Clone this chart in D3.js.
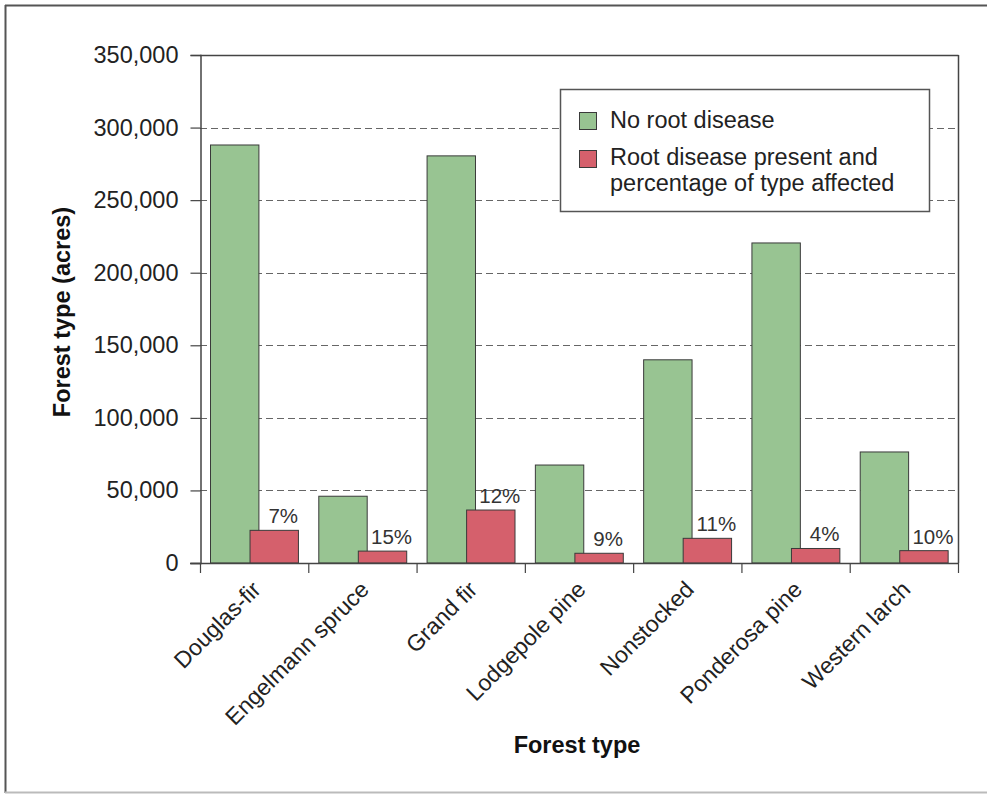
<!DOCTYPE html>
<html>
<head>
<meta charset="utf-8">
<script src="https://cdn.jsdelivr.net/npm/d3@7"></script>
<style>
  html, body { margin: 0; padding: 0; background: #fff; }
  svg { display: block; font-family: "Liberation Sans", Arial, sans-serif; }
</style>
</head>
<body>
<svg id="chart" width="987" height="794"></svg>
<script>
const categories = ["Douglas-fir", "Engelmann spruce", "Grand fir", "Lodgepole pine", "Nonstocked", "Ponderosa pine", "Western larch"];
const noRootDisease = [288000, 46000, 280500, 67500, 140000, 220500, 76500];
const rootDisease = [22500, 8200, 36500, 6700, 17000, 10000, 8500];
const pctAffected = ["7%", "15%", "12%", "9%", "11%", "4%", "10%"];
const yTicks = [0, 50000, 100000, 150000, 200000, 250000, 300000, 350000];
const seriesNames = ["No root disease", "Root disease present and|percentage of type affected"];

const svg = d3.select("#chart");
const W = 987, H = 794;
const plot = { left: 200, right: 958, top: 55, bottom: 563 };
const green = "#98c492", red = "#d5606c", stroke = "#3a3a3a";

// outer frame
svg.append("line").attr("x1", 5).attr("x2", W).attr("y1", 5.5).attr("y2", 5.5).attr("stroke", "#555").attr("stroke-width", 2);
svg.append("line").attr("x1", 5.5).attr("x2", 5.5).attr("y1", 5).attr("y2", 793).attr("stroke", "#555").attr("stroke-width", 2);
svg.append("line").attr("x1", 5).attr("x2", W).attr("y1", 792.5).attr("y2", 792.5).attr("stroke", "#bbb").attr("stroke-width", 2);

const x = d3.scaleBand().domain(categories).range([plot.left, plot.right]).paddingInner(0).paddingOuter(0);
const y = d3.scaleLinear().domain([0, 350000]).range([plot.bottom, plot.top]);
const bw = x.bandwidth();

// gridlines
svg.append("g").selectAll("line").data(yTicks.filter(d => d > 0 && d < 350000)).join("line")
  .attr("x1", plot.left).attr("x2", plot.right)
  .attr("y1", d => Math.round(y(d)) + 0.5).attr("y2", d => Math.round(y(d)) + 0.5)
  .attr("stroke", "#666").attr("stroke-width", 1).attr("stroke-dasharray", "7,4");

// plot frame top & right
svg.append("line").attr("x1", plot.left).attr("x2", plot.right + 0.5).attr("y1", plot.top + 0.5).attr("y2", plot.top + 0.5).attr("stroke", "#444").attr("stroke-width", 1.5);
svg.append("line").attr("x1", plot.right + 0.5).attr("x2", plot.right + 0.5).attr("y1", plot.top).attr("y2", plot.bottom).attr("stroke", "#444").attr("stroke-width", 1.5);

// bars
const gOff = bw * 0.097, barW = bw * 0.447, rOff = bw * 0.462;
svg.append("g").selectAll("rect").data(categories).join("rect")
  .attr("x", d => x(d) + gOff).attr("width", barW)
  .attr("y", (d, i) => y(noRootDisease[i])).attr("height", (d, i) => y(0) - y(noRootDisease[i]))
  .attr("fill", green).attr("stroke", stroke).attr("stroke-width", 1);
svg.append("g").selectAll("rect").data(categories).join("rect")
  .attr("x", d => x(d) + rOff).attr("width", barW)
  .attr("y", (d, i) => y(rootDisease[i])).attr("height", (d, i) => y(0) - y(rootDisease[i]))
  .attr("fill", red).attr("stroke", stroke).attr("stroke-width", 1);

// percentage labels
svg.append("g").selectAll("text").data(categories).join("text")
  .attr("x", d => x(d) + rOff + barW / 2 + 9)
  .attr("y", (d, i) => y(rootDisease[i]) - 7)
  .attr("text-anchor", "middle").attr("font-size", 20.5).attr("fill", "#333")
  .text((d, i) => pctAffected[i]);

// y axis
const yAxis = d3.axisLeft(y).tickValues(yTicks).tickSize(10).tickPadding(12).tickFormat(d3.format(","));
const gy = svg.append("g").attr("transform", `translate(${plot.left + 0.5},0)`).call(yAxis);
gy.select(".domain").attr("stroke", "#444").attr("stroke-width", 1.5);
gy.selectAll(".tick line").attr("stroke", "#444").attr("stroke-width", 1.2);
gy.selectAll(".tick text").attr("font-size", 23.5).attr("fill", "#222").attr("font-family", "Liberation Sans, Arial, sans-serif");

// x axis line + ticks at boundaries
const gx = svg.append("g");
gx.append("line").attr("x1", plot.left - 10).attr("x2", plot.right + 1).attr("y1", plot.bottom + 0.5).attr("y2", plot.bottom + 0.5).attr("stroke", "#444").attr("stroke-width", 1.5);
const bounds = categories.map(d => x(d)).concat([x(categories[categories.length - 1]) + bw]);
gx.selectAll("line.tk").data(bounds).join("line").attr("class", "tk")
  .attr("x1", d => d + 0.5).attr("x2", d => d + 0.5).attr("y1", plot.bottom).attr("y2", plot.bottom + 10)
  .attr("stroke", "#444").attr("stroke-width", 1.2);
gx.selectAll("text").data(categories).join("text")
  .attr("transform", d => `translate(${x(d) + bw / 2 + 8},${plot.bottom + 28}) rotate(-45)`)
  .attr("text-anchor", "end").attr("font-size", 23).attr("fill", "#222")
  .text(d => d);

// axis titles
svg.append("text").attr("x", (plot.left + plot.right) / 2 - 2).attr("y", 753)
  .attr("text-anchor", "middle").attr("font-size", 23.5).attr("font-weight", "bold").attr("fill", "#111")
  .text("Forest type");
svg.append("text").attr("transform", `translate(70,${(plot.top + plot.bottom) / 2 + 3}) rotate(-90)`)
  .attr("text-anchor", "middle").attr("font-size", 23.5).attr("font-weight", "bold").attr("fill", "#111")
  .text("Forest type (acres)");

// legend
const lg = svg.append("g");
lg.append("rect").attr("x", 560.5).attr("y", 89.5).attr("width", 369).attr("height", 122)
  .attr("fill", "#fff").attr("stroke", "#555").attr("stroke-width", 1.5);
const colors = [green, red];
const swY = [112, 150];
const txtY = [128, [165, 191]];
seriesNames.forEach((name, i) => {
  lg.append("rect").attr("x", 579.5).attr("y", swY[i] + 0.5).attr("width", 17).attr("height", 17)
    .attr("fill", colors[i]).attr("stroke", stroke).attr("stroke-width", 1);
  name.split("|").forEach((line, j) => {
    const ty = Array.isArray(txtY[i]) ? txtY[i][j] : txtY[i];
    lg.append("text").attr("x", 610).attr("y", ty)
      .attr("font-size", 23.5).attr("fill", "#222").text(line);
  });
});
</script>
</body>
</html>
